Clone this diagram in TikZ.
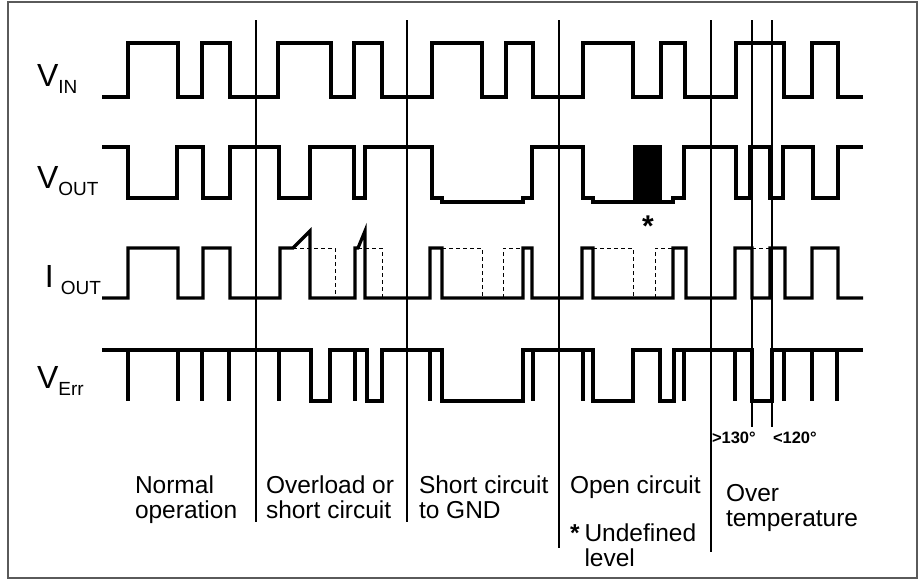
\documentclass[tikz,border=0pt]{standalone}
\usepackage{fontspec}
\setmainfont{Liberation Sans}
\usepackage{tikz}
\definecolor{TraceBlack}{HTML}{000000}
\definecolor{FrameGray}{HTML}{5A5A5A}

\begin{document}
\begin{tikzpicture}[x=1pt, y=-1pt,
  every node/.style={inner sep=0pt, outer sep=0pt},
  trace/.style={line width=3.2pt, TraceBlack},
  divider/.style={line width=1.1pt, TraceBlack},
  ghost/.style={line width=1pt, dash pattern=on 4pt off 3pt, TraceBlack},
  siglabel/.style={anchor=base west, font=\fontsize{32}{32}\selectfont},
  sublabel/.style={anchor=base west, font=\fontsize{19}{19}\selectfont},
  phaselabel/.style={anchor=base west, align=left, font=\fontsize{24.5}{25}\selectfont},
  templabel/.style={anchor=base west, font=\fontsize{16.5}{16.5}\selectfont\bfseries}]
  \useasboundingbox (0,0) rectangle (919,584);
  \draw[line width=1.3pt, FrameGray] (8,2) rectangle (917,578);

  % signal names
  \node[siglabel] (vin) at (37,86) {V};
  \node[sublabel] (vinsub) at ([yshift=-7pt]vin.base east) {IN};
  \node[siglabel] (vout) at (37,188) {V};
  \node[sublabel] (voutsub) at ([yshift=-7pt]vout.base east) {OUT};
  \node[siglabel] (iout) at (45,287) {I};
  \node[sublabel] (ioutsub) at ([xshift=7pt, yshift=-7pt]iout.base east) {OUT};
  \node[siglabel] (verr) at (37,388) {V};
  \node[sublabel] (verrsub) at ([yshift=-7pt]verr.base east) {Err};

  % phase borders
  \draw[divider] (256,20) -- (256,522);
  \draw[divider] (407,20) -- (407,522);
  \draw[divider] (559,20) -- (559,548);
  \draw[divider] (711,20) -- (711,552);
  \draw[divider] (752,20) -- (752,427);
  \draw[divider] (772,20) -- (772,427);

  % V_IN
  \draw[trace] (102,97) -| (128,43) -| (178,97) -| (202,43) -| (230,97) -| (278,43) -| (331,97) -| (354,43) -| (382,97) -| (432,43) -| (482,97) -| (506,43) -| (533,97) -| (583,43) -| (633,97) -| (661,43) -| (685,97) -| (736,43) -| (784,97) -| (812,43) -| (838,97) -- (863,97);

  % V_OUT
  \draw[trace] (102,147) -| (128,198) -| (177,147) -| (203,198) -| (230,147) -| (279,198) -| (310,147) -| (354,198) -| (365,147) -| (432,198) -| (442,202) -| (523,198) -| (532,147) -| (583,198) -| (593,202) -- (633,202);
  \fill[TraceBlack] (633,145.4) rectangle (662,203.6);
  \draw[trace] (662,202) -| (673,198) -| (684,147) -| (736,198) -| (750,147) -| (770,198) -| (783,147) -| (813,198) -| (838,147) -- (863,147);
  \node[anchor=base, font=\fontsize{30}{30}\selectfont\bfseries] (undef) at (648,236) {*};

  % I_OUT
  \draw[trace] (102,298) -| (128,248) -| (178,298) -| (203,248) -| (230,298) -| (280,248) -- (293,248) -- (310,231) -- (310,298) -| (355,248) -- (358,248) -- (365,231) -- (365,298) -| (430,248) -| (442,298) -| (523,248) -| (532,298) -| (582,248) -| (593,298) -| (673,248) -| (686,298) -| (735,248) -| (752,298) -| (770,248) -| (785,298) -| (812,248) -| (838,298) -- (863,298);
  \draw[ghost] (293,248) -| (335,298) (358,248) -| (382,298) (442,248) -| (482,298) (503,298) |- (523,248) (593,248) -| (633,298) (655,298) |- (673,248) (752,248) -- (770,248);

  % V_Err
  \draw[trace] (102,350) -| (311,401) -| (330,350) -| (367,401) -| (382,350) -| (442,401) -| (523,350) -| (593,401) -| (633,350) -| (660,401) -| (674,350) -| (752,401) -| (772,350) -- (863,350);
  \draw[trace] (128,350) -- (128,401) (178,350) -- (178,401) (202,350) -- (202,401) (229,350) -- (229,401) (279,350) -- (279,401) (355,350) -- (355,401) (430,350) -- (430,401) (533,350) -- (533,401) (583,350) -- (583,401) (684,350) -- (684,401) (735,350) -- (735,401) (784,350) -- (784,401) (812,350) -- (812,401) (837,350) -- (837,401);

  % temperature marks
  \node[templabel] (hot) at (712,443) {>130°};
  \node[templabel] (cool) at (773,443) {<120°};

  % phase names
  \node[phaselabel] (normal) at (135,518) {Normal\\operation};
  \node[phaselabel] (overload) at (266,518) {Overload or\\short circuit};
  \node[phaselabel] (shortgnd) at (419,518) {Short circuit\\to GND};
  \node[phaselabel] (open) at (570,493) {Open circuit};
  \node[phaselabel] (undefnote) at (570,566) {{\bfseries *}\hspace{5pt}Undefined\\\hphantom{{\bfseries *}\hspace{5pt}}level};
  \node[phaselabel] (overtemp) at (726,526) {Over\\temperature};
\end{tikzpicture}
\end{document}
